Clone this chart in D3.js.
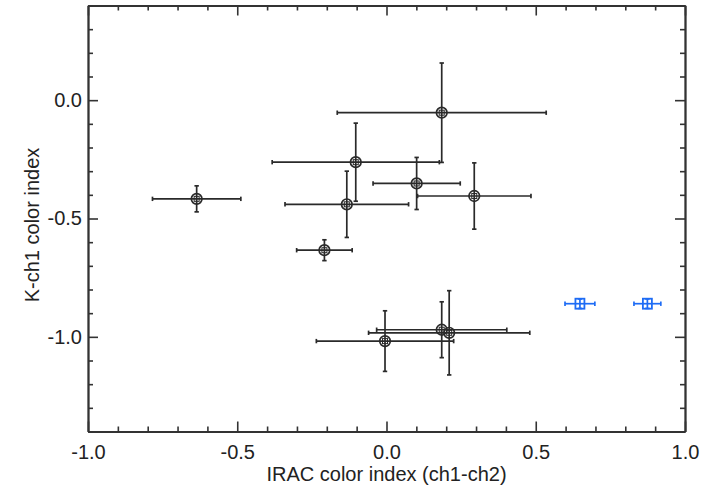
<!DOCTYPE html>
<html>
<head>
<meta charset="utf-8">
<script src="https://cdn.jsdelivr.net/npm/d3@7"></script>
<style>
  body { margin: 0; background: #fff; }
  svg { font-family: "Liberation Sans", Arial, Helvetica, sans-serif; }
  .axis path, .axis line { stroke: #333; }
  .axis text { fill: #222; font-size: 20px; }
</style>
</head>
<body>
<svg id="chart" width="701" height="488"></svg>
<script>
// black sources
const xVals = [0.185, -0.103, 0.101, 0.294, -0.133, -0.208, -0.636, -0.005, 0.185, 0.21];
const yVals = [-0.053, -0.262, -0.352, -0.405, -0.44, -0.634, -0.417, -1.018, -0.97, -0.983];
const xErrs = [0.35, 0.28, 0.146, 0.19, 0.207, 0.093, 0.148, 0.23, 0.218, 0.27];
const yErrs = [0.21, 0.165, 0.11, 0.14, 0.14, 0.044, 0.055, 0.128, 0.118, 0.178];

// blue sources
const blueX = [0.648, 0.874];
const blueY = [-0.86, -0.86];
const blueXErr = [0.05, 0.045];
const blueYErr = [0.02, 0.02];

const xMajor = [-1.0, -0.5, 0.0, 0.5, 1.0];
const yMajor = [-1.0, -0.5, 0.0];

const MARGIN = { left: 88, top: 5.5, right: 16, bottom: 56.5 };
const WIDTH = 701 - MARGIN.left - MARGIN.right;
const HEIGHT = 488 - MARGIN.top - MARGIN.bottom;

const svg = d3.select("#chart");
const g = svg.append("g").attr("transform", `translate(${MARGIN.left},${MARGIN.top})`);

const x = d3.scaleLinear().domain([-1, 1]).range([0, WIDTH]);
const y = d3.scaleLinear().domain([-1.4, 0.4]).range([HEIGHT, 0]);

const minorX = d3.range(-10, 11).map(d => d / 10).filter(d => Math.abs(d * 2 - Math.round(d * 2)) > 1e-6);
const minorY = d3.range(-14, 5).map(d => d / 10).filter(d => Math.abs(d * 2 - Math.round(d * 2)) > 1e-6);

// plain hyphen instead of the unicode minus d3.format gives
const fmt = d => d.toFixed(1);

// bottom
g.append("g").attr("class", "axis").attr("transform", `translate(0,${HEIGHT})`)
  .call(d3.axisBottom(x).tickValues(xMajor).tickSize(-10).tickSizeOuter(0).tickFormat(fmt).tickPadding(13));
g.append("g").attr("class", "axis minor").attr("transform", `translate(0,${HEIGHT})`)
  .call(d3.axisBottom(x).tickValues(minorX).tickSize(-5).tickSizeOuter(0).tickFormat(""));
// top
g.append("g").attr("class", "axis")
  .call(d3.axisTop(x).tickValues(xMajor).tickSize(-10).tickSizeOuter(0).tickFormat(""));
g.append("g").attr("class", "axis minor")
  .call(d3.axisTop(x).tickValues(minorX).tickSize(-5).tickSizeOuter(0).tickFormat(""));
// left
g.append("g").attr("class", "axis")
  .call(d3.axisLeft(y).tickValues(yMajor).tickSize(-10).tickSizeOuter(0).tickFormat(fmt).tickPadding(6));
g.append("g").attr("class", "axis minor")
  .call(d3.axisLeft(y).tickValues(minorY).tickSize(-5).tickSizeOuter(0).tickFormat(""));
// right
g.append("g").attr("class", "axis").attr("transform", `translate(${WIDTH},0)`)
  .call(d3.axisRight(y).tickValues(yMajor).tickSize(-10).tickSizeOuter(0).tickFormat(""));
g.append("g").attr("class", "axis minor").attr("transform", `translate(${WIDTH},0)`)
  .call(d3.axisRight(y).tickValues(minorY).tickSize(-5).tickSizeOuter(0).tickFormat(""));

g.selectAll(".axis path").attr("stroke-width", 1.8);
g.selectAll(".axis line").attr("stroke-width", 1.6);

// axis labels
g.append("text")
  .attr("x", WIDTH / 2).attr("y", 481 - MARGIN.top)
  .attr("text-anchor", "middle").attr("font-size", 20).attr("fill", "#222")
  .text("IRAC color index (ch1-ch2)");
g.append("text")
  .attr("transform", `translate(${39 - MARGIN.left},${225 - MARGIN.top}) rotate(-90)`)
  .attr("text-anchor", "middle").attr("font-size", 20).attr("fill", "#222")
  .text("K-ch1 color index");

// error bars + markers
const drawPoints = (xs, ys, xe, ye, color, marker) => {
  const pts = xs.map((v, i) => ({ x: v, y: ys[i], xe: xe[i], ye: ye[i] }));
  const grp = g.append("g").attr("stroke", color).attr("fill", "none").attr("stroke-width", 1.7);
  const cap = 2.2;
  pts.forEach(p => {
    const cx = x(p.x), cy = y(p.y);
    const x0 = x(p.x - p.xe), x1 = x(p.x + p.xe);
    const y0 = y(p.y - p.ye), y1 = y(p.y + p.ye);
    grp.append("line").attr("x1", x0).attr("x2", x1).attr("y1", cy).attr("y2", cy);
    grp.append("line").attr("x1", cx).attr("x2", cx).attr("y1", y0).attr("y2", y1);
    [x0, x1].forEach(xx => grp.append("line").attr("x1", xx).attr("x2", xx).attr("y1", cy - cap).attr("y2", cy + cap));
    [y0, y1].forEach(yy => grp.append("line").attr("x1", cx - cap).attr("x2", cx + cap).attr("y1", yy).attr("y2", yy));
    if (marker === "circle") {
      grp.append("circle").attr("cx", cx).attr("cy", cy).attr("r", 5.3);
      grp.append("rect").attr("x", cx - 2.5).attr("y", cy - 2.5).attr("width", 5).attr("height", 5).attr("stroke-width", 1);
    } else {
      grp.append("rect").attr("x", cx - 4.5).attr("y", cy - 5).attr("width", 9).attr("height", 10).attr("stroke-width", 1.8);
    }
  });
};

drawPoints(xVals, yVals, xErrs, yErrs, "#2a2a2a", "circle");
drawPoints(blueX, blueY, blueXErr, blueYErr, "#1e6cf5", "square");
</script>
</body>
</html>
